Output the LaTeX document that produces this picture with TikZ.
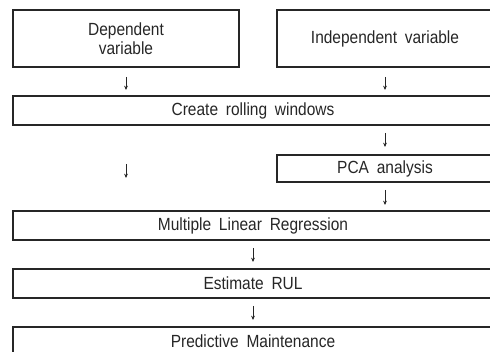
\documentclass[tikz,border=0pt]{standalone}
\usepackage{fontspec}
\setmainfont{Liberation Sans}[WordSpace=1.8,FakeStretch=0.88]
\usetikzlibrary{arrows.meta}
\begin{document}
\begin{tikzpicture}[x=0.75pt,y=-0.75pt,
  box/.style={draw=black!85,line width=0.85pt,inner sep=0pt,align=center,
    font=\fontsize{13.2pt}{14pt}\selectfont,text=black!85},
  wide/.style={box,minimum width=360pt,minimum height=21.75pt},
  flowarrow/.style={draw=black!85,line width=0.6pt,-{Stealth[length=3.2pt,width=2.8pt]}}]
\useasboundingbox (0,0) rectangle (490,352);
\clip (0,0) rectangle (490,352);
\node[box,minimum width=169.5pt,minimum height=42.75pt] (dep) at (126,38.5) {Dependent\\variable};
\node[box,minimum width=162pt,minimum height=42.75pt] (indep) at (385,38.5) {Independent variable};
\node[wide] (roll) at (253,110.5) {Create rolling windows};
\node[box,minimum width=162pt,minimum height=20.25pt] (pca) at (385,168.5) {PCA analysis};
\node[wide] (mlr) at (253,225.5) {Multiple Linear Regression};
\node[wide] (rul) at (253,283.5) {Estimate RUL};
\node[wide] (pm) at (253,341.5) {Predictive Maintenance};
\coordinate (a1s) at (126,77); \coordinate (a1e) at (126,90);
\coordinate (a2s) at (385,77); \coordinate (a2e) at (385,90);
\coordinate (a3s) at (385,133); \coordinate (a3e) at (385,147);
\coordinate (a4s) at (126,164); \coordinate (a4e) at (126,178);
\coordinate (a5s) at (385,190); \coordinate (a5e) at (385,205);
\coordinate (a6s) at (253,248); \coordinate (a6e) at (253,262);
\coordinate (a7s) at (253,306); \coordinate (a7e) at (253,320);
\foreach \i in {1,...,7}{\draw[flowarrow] (a\i s) -- (a\i e);}
\end{tikzpicture}
\end{document}
